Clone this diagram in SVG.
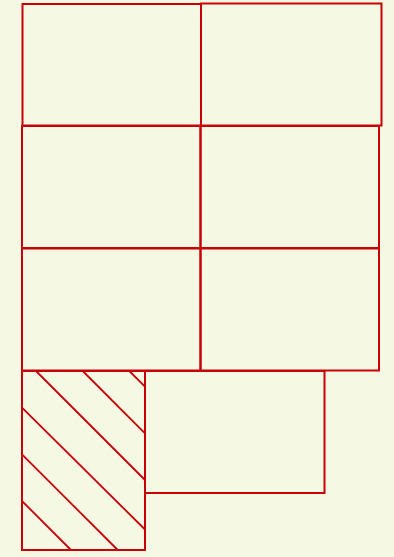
<svg xmlns="http://www.w3.org/2000/svg" width="394" height="557" viewBox="0 0 394 557">
<style>
.r{fill:none;stroke:#c8000a;stroke-width:2}
.h{stroke:#c8000a;stroke-width:1.8;fill:none}
</style>
<rect width="394" height="557" fill="#f5f8e3"/>
<g id="cell-r1-left"><rect class="r" x="22.5" y="4" width="178.5" height="121.5"/></g>
<g id="cell-r1-right"><rect class="r" x="201" y="3.5" width="180.5" height="122"/></g>
<g id="cell-r2-left"><rect class="r" x="22" y="126" width="178.5" height="122"/></g>
<g id="cell-r2-right"><rect class="r" x="200.5" y="126" width="178.5" height="122"/></g>
<g id="cell-r3-left"><rect class="r" x="22" y="248.5" width="178.5" height="122"/></g>
<g id="cell-r3-right"><rect class="r" x="200.5" y="248.5" width="178.5" height="122"/></g>
<g id="cell-r4-hatched">
<rect class="r" x="22" y="371" width="123" height="179"/>
<path class="h" d="M129.3 371L145 386.7M82.7 371L145 433.3M36 371L145 480M22 407.7L145 529.5M22 454.3L117.7 550M22 501L71 550"/>
</g>
<g id="cell-r4-right"><rect class="r" x="145" y="371" width="179.5" height="122"/></g>
</svg>
